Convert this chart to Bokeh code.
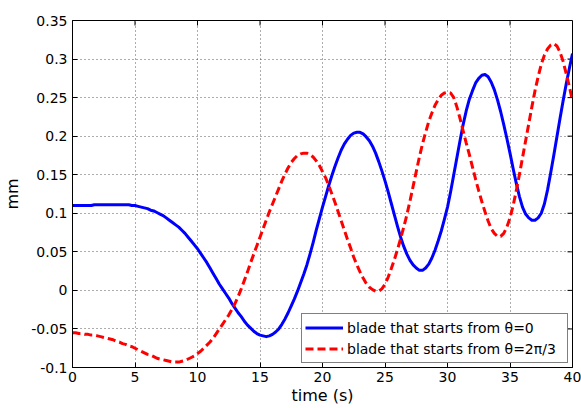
import math
from bokeh.plotting import figure
from bokeh.models import Range1d, FixedTicker, Legend, LegendItem
from bokeh.embed import file_html
from bokeh.resources import INLINE

# ---- data (time step 0.25 s) ----
time_s = [i * 0.25 for i in range(161)]

blade_theta0 = [
    0.110, 0.110, 0.110, 0.110, 0.110, 0.110, 0.110, 0.111, 0.111, 0.111,   # 0.00-2.25
    0.111, 0.111, 0.111, 0.111, 0.111, 0.111, 0.111, 0.111, 0.111, 0.110,   # 2.50-4.75
    0.110, 0.109, 0.108, 0.107, 0.106, 0.104, 0.103, 0.101, 0.099, 0.097,   # 5.00-7.25
    0.094, 0.091, 0.088, 0.085, 0.082, 0.078, 0.074, 0.069, 0.064, 0.059,   # 7.50-9.75
    0.054, 0.048, 0.042, 0.036, 0.029, 0.022, 0.015, 0.008, 0.002, -0.004,  # 10.00-12.25
    -0.010, -0.017, -0.023, -0.029, -0.034, -0.040, -0.045, -0.049, -0.053, -0.056,  # 12.50-14.75
    -0.058, -0.059, -0.060, -0.059, -0.057, -0.054, -0.050, -0.044, -0.037, -0.029,  # 15.00-17.25
    -0.020, -0.011, -0.001, 0.010, 0.021, 0.033, 0.047, 0.062, 0.078, 0.093,  # 17.50-19.75
    0.108, 0.122, 0.136, 0.149, 0.161, 0.172, 0.182, 0.190, 0.196, 0.201,   # 20.00-22.25
    0.204, 0.205, 0.205, 0.203, 0.199, 0.194, 0.187, 0.178, 0.167, 0.155,   # 22.50-24.75
    0.142, 0.128, 0.113, 0.098, 0.083, 0.069, 0.057, 0.047, 0.039, 0.033,   # 25.00-27.25
    0.029, 0.026, 0.026, 0.029, 0.034, 0.042, 0.052, 0.064, 0.077, 0.092,   # 27.50-29.75
    0.108, 0.128, 0.150, 0.172, 0.194, 0.215, 0.233, 0.248, 0.259, 0.269,   # 30.00-32.25
    0.275, 0.279, 0.280, 0.277, 0.270, 0.260, 0.247, 0.232, 0.215, 0.197,   # 32.50-34.75
    0.178, 0.158, 0.139, 0.122, 0.108, 0.099, 0.094, 0.091, 0.091, 0.094,   # 35.00-37.25
    0.100, 0.112, 0.130, 0.152, 0.175, 0.199, 0.223, 0.246, 0.268, 0.288,   # 37.50-39.75
    0.307,                                                                  # 40.00
]

blade_theta2pi3 = [
    -0.055, -0.055, -0.056, -0.056, -0.057, -0.057, -0.058, -0.058, -0.059, -0.060,  # 0.00-2.25
    -0.061, -0.062, -0.063, -0.064, -0.066, -0.067, -0.069, -0.070, -0.072, -0.073,  # 2.50-4.75
    -0.075, -0.077, -0.079, -0.081, -0.083, -0.084, -0.086, -0.088, -0.089, -0.090,  # 5.00-7.25
    -0.091, -0.092, -0.093, -0.093, -0.093, -0.092, -0.091, -0.089, -0.087, -0.085,  # 7.50-9.75
    -0.082, -0.079, -0.075, -0.071, -0.067, -0.062, -0.056, -0.050, -0.044, -0.038,  # 10.00-12.25
    -0.032, -0.025, -0.017, -0.008, 0.002, 0.013, 0.024, 0.036, 0.047, 0.058,   # 12.50-14.75
    0.069, 0.080, 0.091, 0.102, 0.112, 0.122, 0.132, 0.142, 0.151, 0.159,      # 15.00-17.25
    0.166, 0.171, 0.175, 0.177, 0.178, 0.178, 0.176, 0.173, 0.168, 0.162,      # 17.50-19.75
    0.154, 0.146, 0.136, 0.125, 0.114, 0.102, 0.090, 0.078, 0.066, 0.055,      # 20.00-22.25
    0.043, 0.033, 0.024, 0.016, 0.009, 0.004, 0.001, -0.001, -0.001, 0.002,    # 22.50-24.75
    0.008, 0.017, 0.028, 0.040, 0.053, 0.067, 0.082, 0.098, 0.116, 0.135,      # 25.00-27.25
    0.154, 0.173, 0.190, 0.205, 0.219, 0.230, 0.240, 0.247, 0.253, 0.256,      # 27.50-29.75
    0.257, 0.256, 0.250, 0.238, 0.223, 0.207, 0.191, 0.176, 0.160, 0.144,      # 30.00-32.25
    0.129, 0.115, 0.102, 0.090, 0.080, 0.074, 0.070, 0.070, 0.074, 0.082,      # 32.50-34.75
    0.094, 0.110, 0.129, 0.150, 0.172, 0.194, 0.216, 0.238, 0.259, 0.277,      # 35.00-37.25
    0.293, 0.305, 0.313, 0.318, 0.320, 0.317, 0.309, 0.297, 0.281, 0.264,      # 37.50-39.75
    0.246,                                                                     # 40.00
]

x_ticks = [0, 5, 10, 15, 20, 25, 30, 35, 40]
y_ticks = [-0.1, -0.05, 0, 0.05, 0.1, 0.15, 0.2, 0.25, 0.3, 0.35]
y_tick_labels = ["-0.1", "-0.05", "0", "0.05", "0.1", "0.15", "0.2", "0.25", "0.3", "0.35"]

series_labels = ["blade that starts from \u03b8=0", "blade that starts from \u03b8=2\u03c0/3"]
x_label = "time (s)"
y_label = "mm"

FONT = "DejaVu Sans"

x_lo, x_hi = 0, 40
y_lo, y_hi = -0.1, 0.35

p = figure(width=581, height=408, output_backend="svg", toolbar_location=None,
           x_range=Range1d(x_lo, x_hi), y_range=Range1d(y_lo, y_hi),
           min_border_left=72, min_border_right=9, min_border_top=20, min_border_bottom=41)
p.background_fill_color = "white"
p.border_fill_color = "white"
p.outline_line_color = "black"
p.outline_line_width = 1

# axes
p.xaxis.ticker = FixedTicker(ticks=x_ticks)
p.yaxis.ticker = FixedTicker(ticks=y_ticks)
p.yaxis.major_label_overrides = {v: s for v, s in zip(y_ticks, y_tick_labels)}
for ax in (p.xaxis[0], p.yaxis[0]):
    ax.major_tick_in = 5
    ax.major_tick_out = 0
    ax.minor_tick_in = 0
    ax.minor_tick_out = 0
    ax.axis_line_color = "black"
    ax.major_tick_line_color = "black"
    ax.major_label_text_font = FONT
    ax.major_label_text_font_size = "14px"
    ax.major_label_text_color = "black"
    ax.axis_label_text_font = FONT
    ax.axis_label_text_font_size = "16px"
    ax.axis_label_text_font_style = "normal"
    ax.axis_label_text_color = "black"
p.xaxis.major_label_standoff = 4
p.yaxis.major_label_standoff = 5
p.xaxis.axis_label = x_label
p.yaxis.axis_label = y_label
p.xaxis.axis_label_standoff = 1
p.yaxis.axis_label_standoff = 6

# grid
for g in (p.xgrid[0], p.ygrid[0]):
    g.grid_line_color = "#333333"
    g.grid_line_alpha = 0.8
    g.grid_line_dash = "1 3"
    g.grid_line_width = 1
p.xgrid.ticker = FixedTicker(ticks=x_ticks)
p.ygrid.ticker = FixedTicker(ticks=y_ticks)

# inward tick marks on the right and top edges of the box
p.ray(x=[x_hi] * len(y_ticks), y=y_ticks, length=5, length_units="screen",
      angle=math.pi, line_color="black", line_width=1)
p.ray(x=x_ticks, y=[y_hi] * len(x_ticks), length=5, length_units="screen",
      angle=-math.pi / 2, line_color="black", line_width=1)

# lines
r1 = p.line(time_s, blade_theta0, line_color="#0000ff", line_width=3, line_join="round")
r2 = p.line(time_s, blade_theta2pi3, line_color="#ff0000", line_width=3, line_dash="8 4")

legend = Legend(items=[LegendItem(label=series_labels[0], renderers=[r1]),
                       LegendItem(label=series_labels[1], renderers=[r2])],
                location="bottom_right", margin=4, padding=3, spacing=0,
                glyph_width=38, glyph_height=21, label_height=21, label_width=217,
                label_standoff=4,
                label_text_font=FONT, label_text_font_size="14px", label_text_color="black",
                border_line_color="black", border_line_width=1,
                background_fill_color="white", background_fill_alpha=1.0)
p.add_layout(legend, "center")

open("out.html", "w").write(file_html(p, INLINE))
